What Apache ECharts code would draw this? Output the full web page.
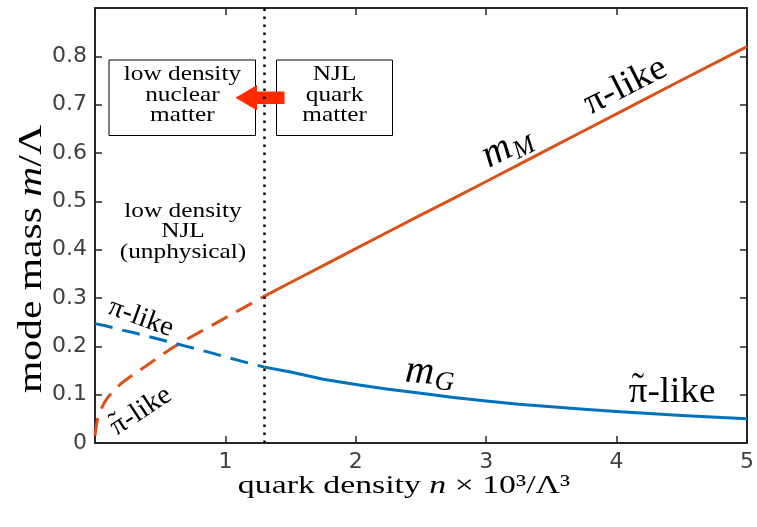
<!DOCTYPE html>
<html>
<head>
<meta charset="utf-8">
<script src="https://cdn.jsdelivr.net/npm/echarts@6/dist/echarts.min.js"></script>
<style>
  html, body { margin: 0; padding: 0; background: #fff; }
  #chart { width: 757px; height: 527px; }
</style>
</head>
<body>
<div id="chart"></div>
<script>
// Quark density n x 10^3 / Lambda^3, below the NJL validity boundary (dashed)
const nUnphys = [0, 0.01, 0.02, 0.035, 0.05, 0.075, 0.1, 0.15, 0.2, 0.3, 0.4, 0.5, 0.6, 0.7, 0.8, 0.9, 1.0, 1.1, 1.2, 1.3];
// Meson-like mode m_M and Goldstone-like mode m_G in that region
const mMUnphys = [0.015, 0.036, 0.05, 0.062, 0.072, 0.085, 0.095, 0.11, 0.123, 0.143, 0.161, 0.18, 0.198, 0.214, 0.229, 0.244, 0.259, 0.274, 0.289, 0.304];
const mGUnphys = [0.247, 0.246, 0.246, 0.245, 0.244, 0.243, 0.241, 0.238, 0.234, 0.228, 0.221, 0.214, 0.207, 0.200, 0.193, 0.186, 0.178, 0.171, 0.164, 0.157];

// NJL quark matter region (solid)
const nQuark = [1.3, 1.5, 1.75, 2, 2.25, 2.5, 2.75, 3, 3.25, 3.5, 3.75, 4, 4.5, 5];
const mMQuark = [0.304, 0.332, 0.367, 0.402, 0.437, 0.472, 0.506, 0.541, 0.576, 0.611, 0.646, 0.681, 0.751, 0.82];
const mGQuark = [0.157, 0.147, 0.132, 0.121, 0.111, 0.103, 0.094, 0.087, 0.080, 0.075, 0.070, 0.065, 0.057, 0.050];

// Boundary density separating the two regimes
const nBoundary = 1.3;

// Axis ticks that carry a label
const xTickLabels = [1, 2, 3, 4, 5];
const yTickLabels = [0, 0.1, 0.2, 0.3, 0.4, 0.5, 0.6, 0.7, 0.8];

const ORANGE = '#D95319';
const BLUE = '#0072BD';
const AXIS = '#262626';
const SERIF_NAME = 'Liberation Serif';
const SERIF = '"Liberation Serif", "Times New Roman", serif';

const zip = (xs, ys) => xs.map((x, i) => [x, ys[i]]);

const chart = echarts.init(document.getElementById('chart'), null, { renderer: 'canvas' });

const axisCommon = {
  type: 'value',
  axisLine: { show: true, onZero: false, lineStyle: { color: AXIS, width: 2 } },
  axisTick: { show: true, inside: true, length: 7, lineStyle: { color: AXIS, width: 1.5 } },
  splitLine: { show: false }
};

const tickFont = { fontFamily: '"DejaVu Sans", sans-serif', fontSize: 22, color: '#404040' };

function lineSeries(name, xs, ys, color, dashed) {
  return {
    name,
    type: 'line',
    data: zip(xs, ys),
    showSymbol: false,
    smooth: false,
    silent: true,
    lineStyle: { color, width: 3, type: dashed ? [18, 10] : 'solid', cap: 'butt', join: 'round' },
    z: 3
  };
}

const option = {
  animation: false,
  backgroundColor: '#ffffff',
  grid: { left: 95, right: 7, top: 8, bottom: 84 },
  xAxis: [
    Object.assign({}, axisCommon, {
      min: 0, max: 5, interval: 1, position: 'bottom',
      axisLabel: Object.assign({}, tickFont, {
        margin: 8,
        formatter: v => (xTickLabels.includes(v) ? String(v) : '')
      })
    }),
    Object.assign({}, axisCommon, {
      min: 0, max: 5, interval: 1, position: 'top',
      axisLabel: { show: false }
    })
  ],
  yAxis: [
    Object.assign({}, axisCommon, {
      min: 0, max: 0.9, interval: 0.1, position: 'left',
      axisLabel: Object.assign({}, tickFont, {
        margin: 8,
        formatter: v => {
          const hit = yTickLabels.find(t => Math.abs(t - v) < 1e-6);
          if (hit === undefined) return '';
          return hit === 0 ? '0' : hit.toFixed(1);
        }
      })
    }),
    Object.assign({}, axisCommon, {
      min: 0, max: 0.9, interval: 0.1, position: 'right',
      axisLabel: { show: false }
    })
  ],
  series: [
    Object.assign(lineSeries('mM low', nUnphys, mMUnphys, ORANGE, true), {
      markLine: {
        silent: true,
        symbol: ['none', 'none'],
        label: { show: false },
        lineStyle: { color: '#000', width: 2.5, type: [2.5, 5.5], cap: 'butt' },
        data: [{ xAxis: nBoundary }],
        z: 6
      }
    }),
    lineSeries('mG low', nUnphys, mGUnphys, BLUE, true),
    lineSeries('mM', nQuark, mMQuark, ORANGE, false),
    lineSeries('mG', nQuark, mGQuark, BLUE, false)
  ]
};

chart.setOption(option);

// Text width helper for placing accents
const measureCtx = document.createElement('canvas').getContext('2d');
function textWidth(str, size) {
  measureCtx.font = size + 'px "' + SERIF_NAME + '"';
  return measureCtx.measureText(str).width;
}

function textStyle(text, size, opts) {
  return {
    text,
    fontFamily: SERIF,
    fontSize: size,
    fontStyle: opts.italic ? 'italic' : 'normal',
    lineHeight: opts.lineHeight || size * 1.1,
    fill: '#000',
    align: opts.align || 'center',
    verticalAlign: 'middle',
    textAlign: opts.align || 'center',
    textVerticalAlign: 'middle',
    rich: opts.rich
  };
}

function label(x, y, text, size, opts) {
  opts = opts || {};
  return {
    type: 'text',
    x, y,
    rotation: opts.rotation || 0,
    scaleX: opts.scaleX || 1,
    z: 100,
    silent: true,
    style: textStyle(text, size, opts)
  };
}

// "π-like" with optional tilde accent over the π
function piLike(x, y, size, rotation, tilde, scaleX) {
  const w = textWidth('π-like', size);
  const wPi = textWidth('π', size);
  const children = [
    { type: 'text', x: -w / 2, y: 0, silent: true, style: textStyle('π-like', size, { align: 'left' }) }
  ];
  if (tilde) {
    children.push({
      type: 'text', x: -w / 2 + wPi / 2, y: -size * 0.12, silent: true,
      style: textStyle('˜', size, {})
    });
  }
  return { type: 'group', x, y, rotation, scaleX: scaleX || 1, z: 100, silent: true, children };
}

const mathRich = (base, sub) => ({
  i: { fontFamily: SERIF, fontStyle: 'italic', fontSize: base, fill: '#000' },
  s: { fontFamily: SERIF, fontStyle: 'italic', fontSize: sub, fill: '#000', verticalAlign: 'bottom', padding: [sub * 0.5, 0, 0, 1] }
});

const graphic = [
  // boxed region captions
  { type: 'rect', z: 1, silent: true, shape: { x: 109, y: 60, width: 146.5, height: 75.5 },
    style: { fill: '#fff', stroke: '#000', lineWidth: 1 } },
  { type: 'rect', z: 1, silent: true, shape: { x: 276.5, y: 60, width: 116, height: 75.5 },
    style: { fill: '#fff', stroke: '#000', lineWidth: 1 } },
  label(182.4, 95, 'low density\nnuclear\nmatter', 22, { lineHeight: 20.7, scaleX: 1.15 }),
  label(334.6, 95, 'NJL\nquark\nmatter', 22, { lineHeight: 20.7, scaleX: 1.15 }),
  // arrow pointing from quark matter to nuclear matter
  { type: 'polygon', z: 2, silent: true,
    shape: { points: [[284.5, 91.5], [257, 91.5], [257, 85], [235.5, 97.7], [257, 110.5], [257, 104], [284.5, 104]] },
    style: { fill: '#FF2A00' } },
  label(183, 231.5, 'low density\nNJL\n(unphysical)', 22, { lineHeight: 20.5, scaleX: 1.15 }),
  // mode character labels
  piLike(141, 318, 28, -0.35, false, 1.03),
  piLike(141, 411, 28, 0.58, true, 1.03),
  piLike(625.5, 86, 36, 0.47, false, 1.05),
  piLike(672, 393, 36, 0, true, 1.03),
  label(507, 147, '{i|m}{s|M}', 40, { rotation: 0.47, rich: mathRich(40, 26) }),
  label(430, 373, '{i|m}{s|G}', 40, { rotation: -0.08, rich: mathRich(40, 27) }),
  // axis titles
  label(404, 486, 'quark density {i|n} × 10³/Λ³', 26, {
    scaleX: 1.3,
    rich: { i: { fontFamily: SERIF, fontStyle: 'italic', fontSize: 26, fill: '#000' } }
  }),
  label(32, 259, 'mode mass {i|m}/Λ', 33, {
    rotation: Math.PI / 2, scaleX: 1.26,
    rich: { i: { fontFamily: SERIF, fontStyle: 'italic', fontSize: 33, fill: '#000' } }
  })
];

chart.setOption({ graphic });
</script>
</body>
</html>
